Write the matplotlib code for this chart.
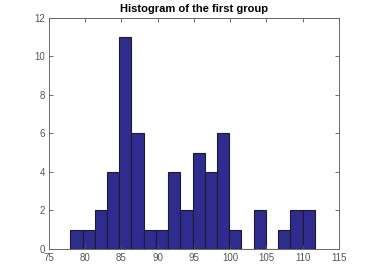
import numpy as np
import matplotlib
matplotlib.use("Agg")
import matplotlib.pyplot as plt

plt.rcParams['font.family'] = ['Liberation Sans', 'DejaVu Sans']

# histogram counts (20 bins)
counts = [1, 1, 2, 4, 11, 6, 1, 1, 4, 2, 5, 4, 6, 1, 0, 2, 0, 1, 2, 2]
x_lo = 77.94
x_hi = 111.69
xticks = [75, 80, 85, 90, 95, 100, 105, 110, 115]
yticks = [0, 2, 4, 6, 8, 10, 12]

edges = np.linspace(x_lo, x_hi, len(counts) + 1)
width = edges[1] - edges[0]

fig = plt.figure(figsize=(3.74, 2.80), dpi=100)
ax = fig.add_axes([0.131, 0.111, 0.775, 0.825])

ax.bar(edges[:-1], counts, width=width, align='edge',
       color='#302b8e', edgecolor='#1c1c2c', linewidth=0.8)

ax.set_xlim(75, 115)
ax.set_ylim(0, 12)
ax.set_xticks(xticks)
ax.set_yticks(yticks)
ax.tick_params(direction='in', length=3, width=0.6, labelsize=7,
               colors='#555555', top=True, right=True, pad=3)
for s in ax.spines.values():
    s.set_color('#666666')
    s.set_linewidth(0.7)

ax.set_title('Histogram of the first group', fontsize=8, fontweight='bold', pad=4)

fig.savefig('out.png', dpi=100)
